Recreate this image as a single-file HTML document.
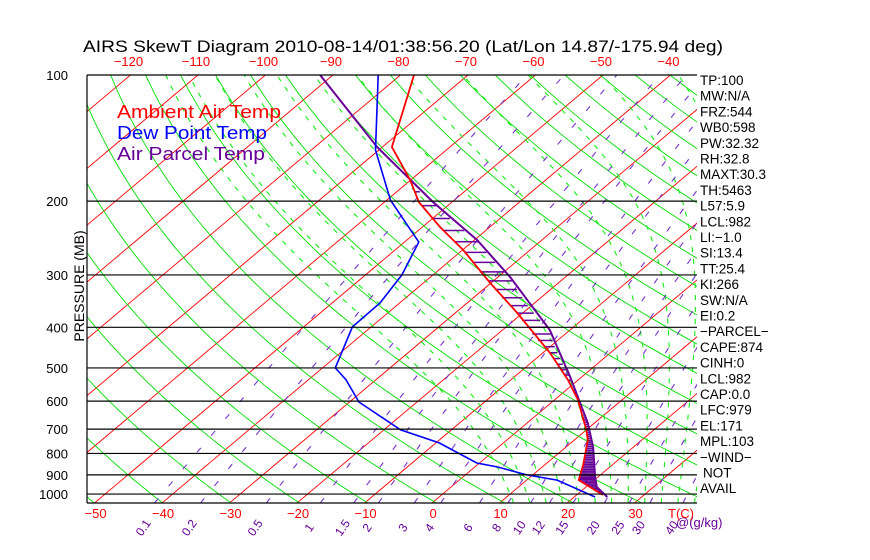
<!DOCTYPE html>
<html><head><meta charset="utf-8"><style>
html,body{margin:0;padding:0;background:#fff;}
svg{display:block;font-family:"Liberation Sans",sans-serif;}
</style></head><body>
<svg id="chart" width="870" height="560" viewBox="0 0 870 560" xmlns="http://www.w3.org/2000/svg">
<defs><clipPath id="plotclip"><rect x="87" y="75" width="610" height="428"/></clipPath></defs>
<text x="83" y="52" font-size="17" fill="#000" textLength="640" lengthAdjust="spacingAndGlyphs">AIRS SkewT Diagram 2010-08-14/01:38:56.20 (Lat/Lon 14.87/-175.94 deg)</text>
<g id="grid" clip-path="url(#plotclip)"></g>
<g id="prof" clip-path="url(#plotclip)"></g>
<g id="axes"></g>
<text x="117" y="118" font-size="18" fill="#ff0000" textLength="164" lengthAdjust="spacingAndGlyphs">Ambient Air Temp</text>
<text x="117" y="139" font-size="18" fill="#0000ff" textLength="150" lengthAdjust="spacingAndGlyphs">Dew Point Temp</text>
<text x="117" y="160" font-size="18" fill="#660099" textLength="148" lengthAdjust="spacingAndGlyphs">Air Parcel Temp</text>
<text transform="translate(84,286) rotate(-90)" text-anchor="middle" font-size="14" fill="#000">PRESSURE (MB)</text>
<g id="stats"></g>
</svg>
<script>
// ---- data ----
var tempP = [100,148.5,178,201,230.5,261.6,313.6,369.8,460.7,534.3,596.3,703,743,852,926,1005];
var tempT = [-78.0,-68.6,-60.1,-54.9,-47.4,-39.9,-30.1,-20.8,-8.9,-1.5,3.5,10.0,12.0,15.7,17.7,23.9];
var dewP = [100,151,198.7,234,250.3,300,350,399,500,534,603,703,755,843,862,900,926,1016];
var dewT = [-83.3,-70.5,-59.5,-51.3,-47.9,-44.6,-42.9,-42.8,-38.1,-34.4,-28.6,-17.5,-9.5,-0.4,3.4,9.1,14.5,23.1];
var parcelP = [100,148.5,201,247.6,303.4,406,525.6,676.7,772,911,962,1016];
var parcelT = [-91.9,-70.8,-52.8,-39.6,-28.2,-13.0,-1.7,9.0,14.0,19.6,21.6,24.9];
var pressureTicks = [100,200,300,400,500,600,700,800,900,1000];
var bottomTempTicks = [-50,-40,-30,-20,-10,0,10,20,30];
var topTempTicks = [-120,-110,-100,-90,-80,-70,-60,-50,-40];
var mixRatios = [0.1,0.2,0.5,1,1.5,2,3,4,6,8,10,12,15,20,25,30,40];
var mixLabels = ["0.1","0.2","0.5","1","1.5","2","3","4","6","8","10","12","15","20","25","30","40"];
var statsLabels = ["TP:100","MW:N/A","FRZ:544","WB0:598","PW:32.32","RH:32.8","MAXT:30.3","TH:5463","L57:5.9","LCL:982","LI:\u22121.0","SI:13.4","TT:25.4","KI:266","SW:N/A","EI:0.2","\u2212PARCEL\u2212","CAPE:874","CINH:0","LCL:982","CAP:0.0","LFC:979","EL:171","MPL:103","\u2212WIND\u2212","NOT","AVAIL"];

// ---- axes ----
function yP(p){return 75+182*Math.log(p/100);}
function xT(T,p){return 432+6.75*T+1.188*(503-yP(p));}
var NS="http://www.w3.org/2000/svg";
function mk(parent,tag,attrs){var e=document.createElementNS(NS,tag);for(var k in attrs)e.setAttribute(k,attrs[k]);parent.appendChild(e);return e;}
var grid=document.getElementById('grid'),prof=document.getElementById('prof'),axes=document.getElementById('axes'),stats=document.getElementById('stats');
function pathFrom(ps,ts){var d='';for(var i=0;i<ps.length;i++){d+=(i?'L':'M')+xT(ts[i],ps[i]).toFixed(1)+' '+yP(ps[i]).toFixed(1);}return d;}

// isotherms
for(var T=-170;T<=60;T+=10){
  var e=mk(grid,'line',{x1:xT(T,1050),y1:yP(1050),x2:xT(T,100),y2:yP(100),stroke:'#ff0000','stroke-width':0.9});
  
  
}
// dry adiabats
for(var th=200;th<=480;th+=10){
  var ps=[],ts=[];
  for(var p=1050;p>=100;p-=10){ps.push(p);ts.push(th*Math.pow(p/1000,0.2857)-273.15);}
  var e=mk(grid,'path',{d:pathFrom(ps,ts),stroke:'#00dd00',fill:'none','stroke-width':0.9});
  
  
}
// moist adiabats
function es(Tc){return 6.112*Math.exp(17.67*Tc/(Tc+243.5));}
function dTdp(Tk,p){var rs=0.622*es(Tk-273.15)/(p-es(Tk-273.15));return (287*Tk+2.5e6*rs)/(p*(1004+2.5e6*2.5e6*rs*0.622/(287*Tk*Tk)));}
for(var tw=10;tw<=40;tw+=2.5){
  var ps=[],ts=[];
  var Td=tw+273.15;for(var p=1000;p<1050;p+=5){Td+=dTdp(Td,p)*5;}
  ps.push(1050);ts.push(Td-273.15);
  var Tk=tw+273.15;
  for(var p=1000;p>=100;p-=5){ps.push(p);ts.push(Tk-273.15);Tk-=dTdp(Tk,p)*5;}
  var e=mk(grid,'path',{d:pathFrom(ps,ts),stroke:'#11ee11',fill:'none','stroke-width':1.1,'stroke-dasharray':'5,7'});
  
  
}
// mixing ratio lines
function tdW(w,p){var e=w*p/(622+w);var l=Math.log(e/6.112);return 243.5*l/(17.67-l);}
for(var i=0;i<mixRatios.length;i++){
  var ps=[],ts=[];
  for(var p=1050;p>=100;p-=10){ps.push(p);ts.push(tdW(mixRatios[i],p));}
  var e=mk(grid,'path',{d:pathFrom(ps,ts),stroke:'#7733cc',fill:'none','stroke-width':1.1,'stroke-dasharray':'6,16'});
  
  
  var lx=xT(tdW(mixRatios[i],1050),1050)-8;
  var t=mk(axes,'text',{x:lx,y:530,'font-size':12,fill:'#660099',transform:'rotate(-55 '+lx+' 530)','text-anchor':'middle'});
  t.textContent=mixLabels[i];
  
  
}
var gk=mk(axes,'text',{x:676,y:527,'font-size':13,fill:'#660099'});gk.textContent='@(g/kg)';



// pressure lines + labels
for(var i=0;i<pressureTicks.length;i++){
  var y=yP(pressureTicks[i]);
  var e=mk(axes,'line',{x1:87,y1:y,x2:697,y2:y,stroke:'#000','stroke-width':1.2});
  
  
  var t=mk(axes,'text',{x:68,y:y+5,'font-size':13,'text-anchor':'end',fill:'#000'});t.textContent=pressureTicks[i];
  
  
}
var b=mk(axes,'line',{x1:87,y1:503,x2:697,y2:503,stroke:'#000','stroke-width':1.2});


var lb=mk(axes,'line',{x1:87,y1:75,x2:87,y2:503,stroke:'#000','stroke-width':1.2});


for(var i=0;i<bottomTempTicks.length;i++){
  var t=mk(axes,'text',{x:xT(bottomTempTicks[i],1050)+1,y:518,'font-size':13,'text-anchor':'middle',fill:'#ff0000'});
  t.textContent=bottomTempTicks[i]<0?'\u2212'+(-bottomTempTicks[i]):bottomTempTicks[i];
  
  
}
var tc=mk(axes,'text',{x:681,y:518,'font-size':13,'text-anchor':'middle',fill:'#ff0000'});tc.textContent='T(C)';


for(var i=0;i<topTempTicks.length;i++){
  var t=mk(axes,'text',{x:xT(topTempTicks[i],100)-2,y:66,'font-size':13,'text-anchor':'middle',fill:'#ff0000'});
  t.textContent='\u2212'+(-topTempTicks[i]);
  
  
}

// hatching between parcel and temp
function interp(ps,ts,p){for(var i=0;i<ps.length-1;i++){if(p>=ps[i]&&p<=ps[i+1]){var f=(p-ps[i])/(ps[i+1]-ps[i]);return ts[i]+f*(ts[i+1]-ts[i]);}}return null;}
for(var p=160;p<=1000;p+=(p<600?15:8)){
  var a=interp(tempP,tempT,p),c=interp(parcelP,parcelT,p);
  if(a===null||c===null||c<=a+0.3)continue;
  var e=mk(prof,'line',{x1:xT(a,p),y1:yP(p),x2:xT(c,p),y2:yP(p),stroke:'#660099','stroke-width':1.5});
  
  
}
var s1=mk(prof,'path',{d:pathFrom(parcelP,parcelT),stroke:'#660099',fill:'none','stroke-width':2});


var s2=mk(prof,'path',{d:pathFrom(tempP,tempT),stroke:'#ff0000',fill:'none','stroke-width':1.8});


var s3=mk(prof,'path',{d:pathFrom(dewP,dewT),stroke:'#0000ff',fill:'none','stroke-width':1.6});



// stats panel
for(var i=0;i<statsLabels.length;i++){
  var t=mk(stats,'text',{x:(statsLabels[i]==='NOT'?703:700),y:85+i*15.7,'font-size':13.5,fill:'#000'});
  t.textContent=statsLabels[i];
  
  
}
</script>
</body></html>
